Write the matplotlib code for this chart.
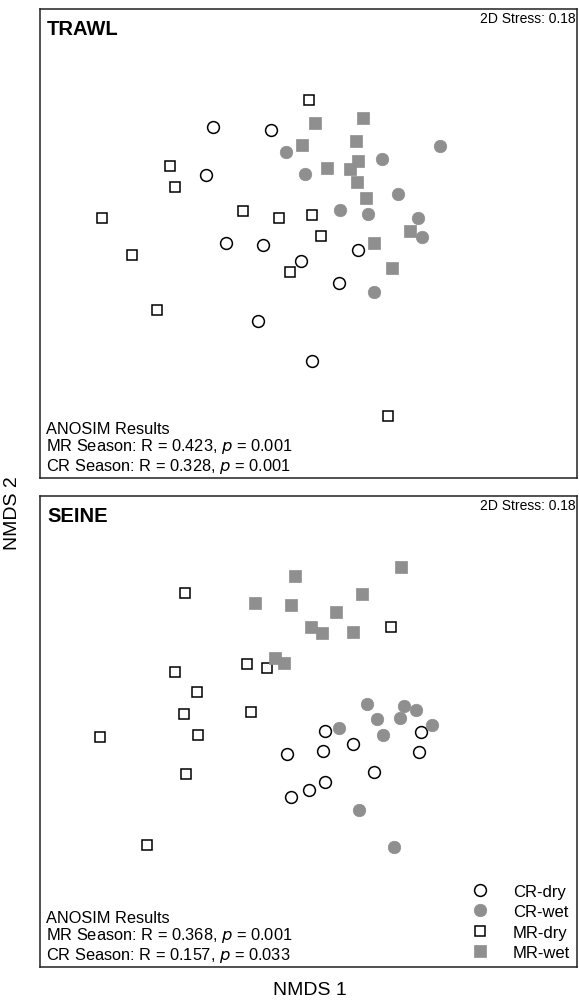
import matplotlib.pyplot as plt

plt.rcParams['font.family'] = ['Liberation Sans', 'DejaVu Sans']

# NMDS coordinates (arbitrary NMDS units)
trawl_cr_dry_x = [-0.87, -0.29, -0.94, -0.74, -0.37, 0.01, 0.58, 0.39, -0.42, 0.12]
trawl_cr_dry_y = [1.17, 1.14, 0.69, 0.01, -0.01, -0.17, -0.06, -0.39, -0.77, -1.17]
trawl_cr_wet_x = [-0.14, 0.05, 0.82, 1.40, 0.40, 0.68, 0.98, 1.18, 1.22, 0.74]
trawl_cr_wet_y = [0.92, 0.70, 0.85, 0.98, 0.34, 0.30, 0.50, 0.26, 0.07, -0.48]
trawl_mr_dry_x = [0.09, -1.30, -1.25, -1.98, -0.57, -0.21, 0.12, 0.21, -0.10, -1.68, -1.43, 0.88]
trawl_mr_dry_y = [1.44, 0.78, 0.57, 0.26, 0.33, 0.26, 0.29, 0.08, -0.28, -0.11, -0.66, -1.72]
trawl_mr_wet_x = [0.15, 0.63, 0.02, 0.56, 0.27, 0.58, 0.50, 0.57, 0.66, 1.10, 0.74, 0.92]
trawl_mr_wet_y = [1.21, 1.26, 0.99, 1.03, 0.76, 0.83, 0.75, 0.62, 0.46, 0.13, 0.01, -0.24]

seine_cr_dry_x = [0.25, 1.21, -0.13, 0.23, 0.53, 1.19, 0.74, 0.25, 0.09, -0.09]
seine_cr_dry_y = [0.03, 0.02, -0.20, -0.17, -0.10, -0.18, -0.38, -0.48, -0.56, -0.63]
seine_cr_wet_x = [0.67, 1.04, 1.16, 0.77, 1.00, 1.32, 0.39, 0.83, 0.59, 0.94]
seine_cr_wet_y = [0.30, 0.28, 0.24, 0.15, 0.16, 0.09, 0.06, -0.01, -0.76, -1.13]
seine_mr_dry_x = [-1.15, 0.91, -1.25, -0.53, -0.33, -1.03, -1.16, -0.49, -1.02, -2.00, -1.14, -1.53]
seine_mr_dry_y = [1.41, 1.07, 0.62, 0.70, 0.66, 0.42, 0.20, 0.22, -0.01, -0.03, -0.40, -1.11]
seine_mr_wet_x = [-0.05, 1.01, 0.62, -0.45, -0.09, 0.36, 0.11, 0.22, 0.53, -0.25, -0.16]
seine_mr_wet_y = [1.58, 1.67, 1.40, 1.31, 1.29, 1.22, 1.07, 1.01, 1.02, 0.76, 0.71]

grey = '#8f8f8f'
styles = {
    'CR-dry': dict(marker='o', mfc='white', mec='black', ms=8.5, mew=1.1),
    'CR-wet': dict(marker='o', mfc=grey, mec=grey, ms=9, mew=0.5),
    'MR-dry': dict(marker='s', mfc='white', mec='black', ms=7.5, mew=1.1),
    'MR-wet': dict(marker='s', mfc=grey, mec=grey, ms=8, mew=0.5),
}

fig = plt.figure(figsize=(5.79, 10.04), dpi=100)
ax1 = fig.add_axes([0.0691, 0.5229, 0.9275, 0.4671])
ax2 = fig.add_axes([0.0691, 0.0359, 0.9275, 0.4691])


def panel(ax, name, groups, ylim, mr_txt, cr_txt):
    for label, (x, y) in groups.items():
        ax.plot(x, y, ls='none', label=label, **styles[label])
    ax.set_xlim(-2.60, 2.77)
    ax.set_ylim(*ylim)
    ax.set_xticks([])
    ax.set_yticks([])
    for s in ax.spines.values():
        s.set_linewidth(1.1)
        s.set_color('#222222')
    ax.text(0.013, 0.978, name, transform=ax.transAxes, fontsize=14.5,
            fontweight='bold', va='top', ha='left')
    ax.text(0.997, 0.995, '2D Stress: 0.18', transform=ax.transAxes,
            fontsize=10, va='top', ha='right')
    ax.text(0.012, 0.006, 'ANOSIM Results\nMR Season: R = ' + mr_txt[0] +
            ', $\\it{p}$ = ' + mr_txt[1] + '\nCR Season: R = ' + cr_txt[0] +
            ', $\\it{p}$ = ' + cr_txt[1], transform=ax.transAxes,
            fontsize=11.8, va='bottom', ha='left', linespacing=1.05)


panel(ax1, 'TRAWL', {
    'CR-dry': (trawl_cr_dry_x, trawl_cr_dry_y),
    'CR-wet': (trawl_cr_wet_x, trawl_cr_wet_y),
    'MR-dry': (trawl_mr_dry_x, trawl_mr_dry_y),
    'MR-wet': (trawl_mr_wet_x, trawl_mr_wet_y),
}, (-2.34, 2.35), ('0.423', '0.001'), ('0.328', '0.001'))

panel(ax2, 'SEINE', {
    'CR-dry': (seine_cr_dry_x, seine_cr_dry_y),
    'CR-wet': (seine_cr_wet_x, seine_cr_wet_y),
    'MR-dry': (seine_mr_dry_x, seine_mr_dry_y),
    'MR-wet': (seine_mr_wet_x, seine_mr_wet_y),
}, (-2.33, 2.38), ('0.368', '0.001'), ('0.157', '0.033'))

ax2.legend(loc='lower right', frameon=False, fontsize=12, handletextpad=1.5,
           labelspacing=0.33, borderaxespad=0.2, handlelength=1.0,
           borderpad=0.2)

fig.text(0.535, 0.0135, 'NMDS 1', ha='center', va='center', fontsize=14)
fig.text(0.021, 0.489, 'NMDS 2', ha='center', va='center', rotation=90, fontsize=14)

plt.savefig('out.png', dpi=100)
